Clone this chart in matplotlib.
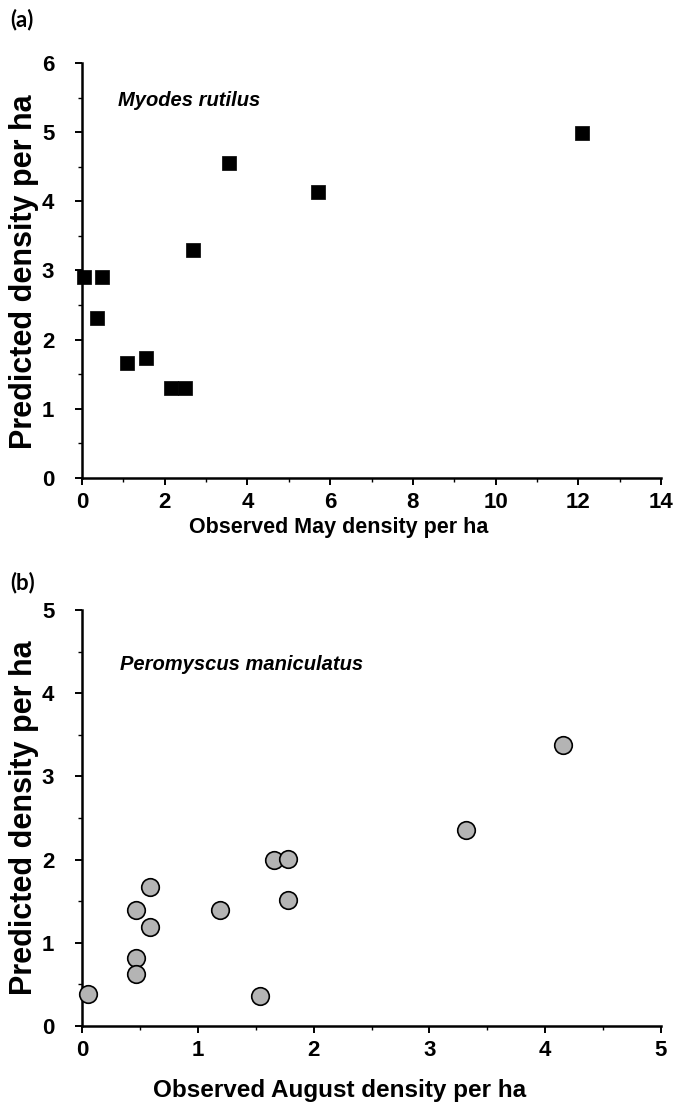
import matplotlib
matplotlib.use("Agg")

import matplotlib.pyplot as plt
from matplotlib.ticker import MultipleLocator

# panel (a) Myodes rutilus, May
may_obs = [0.05, 0.48, 0.36, 1.08, 1.55, 2.15, 2.49, 2.69, 3.55, 5.71, 12.10]
may_pred = [2.91, 2.91, 2.32, 1.66, 1.73, 1.30, 1.30, 3.30, 4.56, 4.14, 4.99]

# panel (b) Peromyscus maniculatus, August
aug_obs = [0.05, 0.47, 0.47, 0.47, 0.59, 0.59, 1.19, 1.54, 1.66, 1.78, 1.78, 3.32, 4.15]
aug_pred = [0.39, 1.40, 0.82, 0.62, 1.67, 1.19, 1.40, 0.36, 1.99, 2.01, 1.52, 2.36, 3.38]

plt.rcParams["font.family"] = ["Liberation Sans", "DejaVu Sans"]
plt.rcParams["font.weight"] = "bold"

fig = plt.figure(figsize=(6.74, 11.11), dpi=100)
ax1 = fig.add_axes([0.1217, 0.5698, 0.859, 0.3735])
ax2 = fig.add_axes([0.1217, 0.0765, 0.859, 0.3744])


def style(ax):
    for s in ["top", "right"]:
        ax.spines[s].set_visible(False)
    for s in ["left", "bottom"]:
        ax.spines[s].set_linewidth(1.8)
        ax.spines[s].set_color("black")
    ax.tick_params(which="major", direction="out", length=5, width=1.4,
                   labelsize=16)
    ax.tick_params(axis="y", which="major", pad=15)
    ax.tick_params(axis="x", which="major", pad=5)
    ax.tick_params(which="minor", direction="out", length=3, width=1.0)


ax1.scatter(may_obs, may_pred, marker="s", s=115, color="black",
            edgecolors="black", linewidths=0.5, zorder=3, clip_on=False)
ax1.set_xlim(0, 14)
ax1.set_ylim(0, 6)
ax1.xaxis.set_major_locator(MultipleLocator(2))
ax1.xaxis.set_minor_locator(MultipleLocator(1))
ax1.yaxis.set_major_locator(MultipleLocator(1))
ax1.yaxis.set_minor_locator(MultipleLocator(0.5))
style(ax1)
ax1.text(0.062, 0.91, "Myodes rutilus", transform=ax1.transAxes,
         fontsize=14.5, style="italic", fontweight="bold", va="center")

ax2.scatter(aug_obs, aug_pred, marker="o", s=160, color="#b4b4b4",
            edgecolors="black", linewidths=1.2, zorder=3, clip_on=False)
ax2.set_xlim(0, 5)
ax2.set_ylim(0, 5)
ax2.xaxis.set_major_locator(MultipleLocator(1))
ax2.xaxis.set_minor_locator(MultipleLocator(0.5))
ax2.yaxis.set_major_locator(MultipleLocator(1))
ax2.yaxis.set_minor_locator(MultipleLocator(0.5))
style(ax2)
ax2.text(0.065, 0.87, "Peromyscus maniculatus", transform=ax2.transAxes,
         fontsize=14.5, style="italic", fontweight="bold", va="center")

fig.text(339 / 674, 1 - 527 / 1111, "Observed May density per ha",
         ha="center", va="center", fontsize=15.5, fontweight="bold")
fig.text(340 / 674, 1 - 1090 / 1111, "Observed August density per ha",
         ha="center", va="center", fontsize=17.5, fontweight="bold")
fig.text(24 / 674, 1 - 272 / 1111, "Predicted density per ha", rotation=90,
         ha="center", va="center", fontsize=22, fontweight="bold")
fig.text(24 / 674, 1 - 818 / 1111, "Predicted density per ha", rotation=90,
         ha="center", va="center", fontsize=22, fontweight="bold")

fig.text(10 / 674, 1 - 20 / 1111, "(a)", ha="left", va="center",
         fontsize=16, fontweight="bold", family=["Lato", "DejaVu Sans"])
fig.text(10 / 674, 1 - 583 / 1111, "(b)", ha="left", va="center",
         fontsize=16, fontweight="bold", family=["Lato", "DejaVu Sans"])

fig.savefig("out.png", dpi=100, facecolor="white")
plt.close(fig)
